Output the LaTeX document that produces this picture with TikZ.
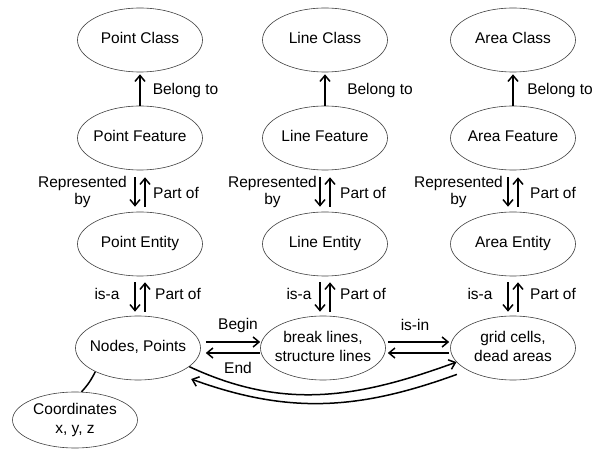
\documentclass[tikz,border=0pt]{standalone}
\usepackage{fontspec}
\setmainfont{Liberation Sans}
\usetikzlibrary{shapes.geometric,arrows.meta}
\newcommand{\ctxt}[1]{\makebox[0pt]{\begin{tabular}{@{}c@{}}#1\end{tabular}}}
\begin{document}
\begin{tikzpicture}[x=1pt,y=-1pt,
  font=\fontsize{15.5}{19}\selectfont,
  ent/.style={ellipse, draw=black!75, line width=0.6pt, minimum width=125pt, minimum height=64pt, inner sep=0pt},
  lbl/.style={inner sep=0pt},
  arr/.style={line width=1.5pt, -{Straight Barb[length=6pt,width=10pt]}}]
\useasboundingbox (0,0) rectangle (606,462);

% ellipses
\node[ent] (pc) at (140,40) {\ctxt{Point Class}};
\node[ent] (lc) at (325,40) {\ctxt{Line Class}};
\node[ent] (ac) at (513,40) {\ctxt{Area Class}};
\node[ent] (pf) at (140,138) {\ctxt{Point Feature}};
\node[ent] (lf) at (325,138) {\ctxt{Line Feature}};
\node[ent] (af) at (513,138) {\ctxt{Area Feature}};
\node[ent] (pe) at (140,244) {\ctxt{Point Entity}};
\node[ent] (le) at (325,244) {\ctxt{Line Entity}};
\node[ent] (ae) at (513,244) {\ctxt{Area Entity}};
\node[ent] (np) at (138,348) {\ctxt{Nodes, Points}};
\node[ent] (bl) at (323,348) {\ctxt{break lines,\\structure lines}};
\node[ent] (gc) at (513,348) {\ctxt{grid cells,\\dead areas}};
\node[ent, minimum height=56pt] (co) at (75,420) {\ctxt{Coordinates\\x, y, z}};

% belong to
\draw[arr, shorten >=2pt] (pf) -- (pc);
\draw[arr, shorten >=2pt] (lf) -- (lc);
\draw[arr, shorten >=2pt] (af) -- (ac);

% represented by / part of
\foreach \f/\e in {pf/pe,lf/le,af/ae}{
  \draw[arr, shorten <=7pt, shorten >=5pt] ([xshift=-5pt]\f.south) -- ([xshift=-5pt]\e.north);
  \draw[arr, shorten <=5pt, shorten >=7pt] ([xshift=5pt]\e.north) -- ([xshift=5pt]\f.south);
}
% is-a / part of
\foreach \e/\n in {pe/np,le/bl,ae/gc}{
  \draw[arr, shorten <=6pt, shorten >=4pt] ([xshift=-5pt]\e.south) -- ([xshift=-5pt]\e.south |- \n.north);
  \draw[arr, shorten <=4pt, shorten >=6pt] ([xshift=5pt]\e.south |- \n.north) -- ([xshift=5pt]\e.south);
}

% horizontal
\draw[arr, shorten <=5pt] ([yshift=6pt]np.east) -- ([yshift=6pt]bl.west);
\draw[arr, shorten >=5pt] ([yshift=-5pt]bl.west) -- ([yshift=-5pt]np.east);
\draw[arr, shorten <=2pt, shorten >=1pt] ([yshift=6pt]bl.east) -- ([yshift=6pt]gc.west);
\draw[arr, shorten <=1pt, shorten >=2pt] ([yshift=-5pt]gc.west) -- ([yshift=-5pt]bl.east);

% long curves
\draw[arr] (np.-20) to[out=-25, in=-160] (gc.194);
\draw[arr] ([xshift=-9.6pt,yshift=-4.7pt]gc.205) to[out=-160, in=-20] ([xshift=16pt,yshift=-5pt]np.-35);

% coordinates link
\draw[line width=1.5pt] (np.209) to[bend left=8] (co.77);

% labels
\node[lbl] at (185.5,90) {Belong to};
\node[lbl] at (380,90) {Belong to};
\node[lbl] at (560,90) {Belong to};

\node[lbl, align=center] at (82.5,192) {Represented\\[-2pt]by};
\node[lbl, align=center] at (272.5,192) {Represented\\[-2pt]by};
\node[lbl, align=center] at (458.5,192) {Represented\\[-2pt]by};
\node[lbl, anchor=west] at (153,193) {Part of};
\node[lbl, anchor=west] at (340,193) {Part of};
\node[lbl, anchor=west] at (530,193) {Part of};

\node[lbl] at (107,294) {is-a};
\node[lbl] at (299,294) {is-a};
\node[lbl] at (480,294) {is-a};
\node[lbl, anchor=west] at (155,294) {Part of};
\node[lbl, anchor=west] at (340,294) {Part of};
\node[lbl, anchor=west] at (530,294) {Part of};

\node[lbl] at (238,325) {Begin};
\node[lbl] at (238,368) {End};
\node[lbl] at (415,325) {is-in};
\end{tikzpicture}
\end{document}
